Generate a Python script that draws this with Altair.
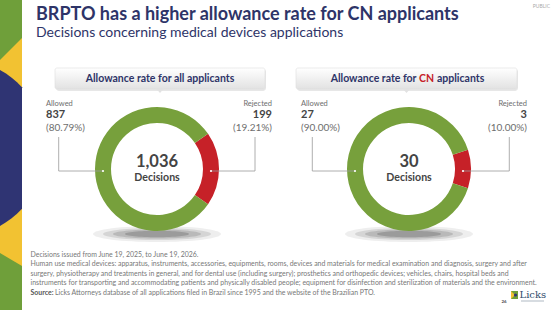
import math
import altair as alt
import pandas as pd

W, H = 554, 310
FONT = "Lato"

# Decisions on medical-device applications at the BRPTO
outcomes = ["Allowed", "Rejected"]
allowed_counts = [837, 27]
rejected_counts = [199, 3]
panel_prefix = ["Allowance rate for all applicants", "Allowance rate for"]
panel_highlight = ["", "CN"]
panel_suffix = ["", "applicants"]

title = "BRPTO has a higher allowance rate for CN applicants"
subtitle = "Decisions concerning medical devices applications"
footnote_lines = [
    "Decisions issued from June 19, 2025, to June 19, 2026.",
    "Human use medical devices: apparatus, instruments, accessories, equipments, rooms, devices and materials for medical examination and diagnosis, surgery and after",
    "surgery, physiotherapy and treatments in general, and for dental use (including surgery); prosthetics and orthopedic devices; vehicles, chairs, hospital beds and",
    "instruments for transporting and accommodating patients and physically disabled people; equipment for disinfection and sterilization of materials and the environment.",
]
source_label = "Source:"
source_text = "Licks Attorneys database of all applications filed in Brazil since 1995 and the website of the Brazilian PTO."

GREEN = "#77a03c"
RED = "#c62128"
NAVY = "#2e3468"
STRIP_GREEN = "#6f9f3a"
STRIP_YELLOW = "#f2c232"
STRIP_NAVY = "#2f3473"
DARK = "#444444"
GREY = "#6e6e6e"
LINE = "#9a9a9a"

one = pd.DataFrame({"k": [0]})


def base():
    return alt.Chart(one)


def shape(path, color, opacity=1.0):
    # size=4 makes custom symbol paths use pixel units
    return base().mark_point(shape=path, size=4, filled=True, fill=color,
                             strokeWidth=0, opacity=opacity).encode(
        x=alt.value(0), y=alt.value(0))


def text(t, x, y, size, color=DARK, weight="normal", align="left",
         baseline="middle", font=FONT):
    return base().mark_text(text=t, font=font, fontSize=size, fontWeight=weight,
                            color=color, align=align, baseline=baseline).encode(
        x=alt.value(x), y=alt.value(y))


def rect(x, x2, y, y2, **kw):
    return base().mark_rect(**kw).encode(
        x=alt.value(x), x2=alt.value(x2), y=alt.value(y), y2=alt.value(y2))


def rule(x, y, x2, y2):
    return base().mark_rule(color=LINE, strokeWidth=0.8).encode(
        x=alt.value(x), y=alt.value(y), x2=alt.value(x2), y2=alt.value(y2))


def ellipse(cx, cy, rx, ry):
    return (f"M{cx - rx},{cy} A{rx},{ry} 0 1 0 {cx + rx},{cy} "
            f"A{rx},{ry} 0 1 0 {cx - rx},{cy} Z")


layers = []

# left brand strip
layers.append(rect(0, 22, 0, H, color=STRIP_YELLOW))
layers.append(shape("M0,0 L22,0 L22,38 L0,60 Z", STRIP_GREEN))
layers.append(shape("M0,253 L22,266 L22,310 L0,310 Z", STRIP_GREEN))
layers.append(shape("M0,70.1 A89,89 0 0 1 22,87.2 L22,208.8 A89,89 0 0 1 0,225.9 Z", STRIP_NAVY))

# heading
layers.append(text(title, 36, 20, 18, color=NAVY, weight="bold", baseline="alphabetic"))
layers.append(text(subtitle, 36, 36.5, 14, color=NAVY, baseline="alphabetic"))
layers.append(text("PUBLIC", 550, 5.5, 5, color="#aaaaaa", align="right"))

centers = [(157, 169), (409, 169)]
boxes = [(55, 265), (296, 517)]
label_left = [46, 301]
label_right = [272, 527]
leader_left = [58.7, 312.3]
leader_right = [255, 509.3]
R_OUT, R_IN = 62, 46
R_MID = (R_OUT + R_IN) / 2

for i in range(2):
    cx, cy = centers[i]
    allowed, rejected = allowed_counts[i], rejected_counts[i]
    total = allowed + rejected
    frac = rejected / total

    # header box
    bx0, bx1 = boxes[i]
    bmid = (bx0 + bx1) / 2
    layers.append(rect(bx0 + 1, bx1 + 1, 69, 91, color="#cfcfcf", opacity=0.5, cornerRadius=3))
    layers.append(rect(bx0, bx1, 68, 89, cornerRadius=2, stroke="#dedede", strokeWidth=0.6,
                       color={"gradient": "linear", "x1": 0, "y1": 0, "x2": 0, "y2": 1,
                              "stops": [{"offset": 0, "color": "#ffffff"},
                                        {"offset": 1, "color": "#e2e2e2"}]}))
    layers.append(shape(f"M{bmid - 4},88.5 L{bmid + 4},88.5 L{bmid},93 Z", "#e2e2e2"))
    if panel_highlight[i]:
        layers.append(text(panel_prefix[i], bmid + 10, 78.5, 10.5, color=NAVY, weight="bold", align="right"))
        layers.append(text(panel_highlight[i], bmid + 20, 78.5, 10.5, color=RED,
                           weight="bold", align="center"))
        layers.append(text(panel_suffix[i], bmid + 30.5, 78.5, 10.5, color=NAVY, weight="bold"))
    else:
        layers.append(text(panel_prefix[i], bmid, 78.5, 10.5, color=NAVY, weight="bold", align="center"))

    # soft shadow under the ring
    for rx, ry, op in [(64, 8, 0.10), (54, 6, 0.16), (44, 4.5, 0.22), (32, 3.2, 0.3)]:
        layers.append(shape(ellipse(cx, cy + 65, rx, ry), "#555555", op))

    # donut
    start = math.pi / 2 - math.pi * frac
    df = pd.DataFrame({"outcome": ["Rejected", "Allowed"],
                       "count": [rejected, allowed], "rank": [0, 1]})
    layers.append(alt.Chart(df).mark_arc(innerRadius=R_IN, outerRadius=R_OUT).encode(
        theta=alt.Theta("count:Q", stack=True,
                        scale=alt.Scale(range=[start, start + 2 * math.pi])),
        color=alt.Color("outcome:N", legend=None,
                        scale=alt.Scale(domain=outcomes, range=[GREEN, RED])),
        order=alt.Order("rank:Q"),
        x=alt.value(cx), y=alt.value(cy)))

    # centre label
    layers.append(text(f"{total:,}", cx, cy - 2, 16.5, color=DARK, weight="bold",
                       align="center", baseline="alphabetic"))
    layers.append(text("Decisions", cx, cy + 12, 10.6, color=DARK, weight="bold",
                       align="center", baseline="alphabetic"))

    # leaders
    ly = cy + 2
    lx, rx_ = leader_left[i], leader_right[i]
    layers.append(rule(lx, 137, lx, ly))
    layers.append(rule(lx, ly, cx - R_MID, ly))
    layers.append(rule(cx + R_MID, ly, rx_, ly))
    layers.append(rule(rx_, ly, rx_, 137))
    for dx in (cx - R_MID, cx + R_MID):
        layers.append(base().mark_point(shape="circle", size=5, filled=True, fill="white",
                                        strokeWidth=0, opacity=1).encode(
            x=alt.value(dx), y=alt.value(ly)))

    # outcome labels
    xl, xr = label_left[i], label_right[i]
    layers.append(text(outcomes[0], xl, 104, 7.5, color=GREY))
    layers.append(text(f"{allowed:,}", xl, 115, 11, color=DARK, weight="bold"))
    layers.append(text(f"({allowed / total:.2%})", xl, 128, 10, color=GREY))
    layers.append(text(outcomes[1], xr, 104, 7.5, color=GREY, align="right"))
    layers.append(text(f"{rejected:,}", xr, 115, 11, color=DARK, weight="bold", align="right"))
    layers.append(text(f"({rejected / total:.2%})", xr, 128, 10, color=GREY, align="right"))

# footnotes
for j, line in enumerate(footnote_lines):
    layers.append(text(line, 30.5, 255 + j * 9.4, 6.95, color="#777777"))
layers.append(text(source_label, 30.5, 292.8, 6.95, color="#555555", weight="bold"))
layers.append(text(source_text, 55, 292.8, 6.95, color="#777777"))

# logo
layers.append(text("26", 504, 301.5, 4.5, color="#555555", weight="bold", align="center"))
layers.append(rect(511, 518, 291, 299, color=STRIP_GREEN))
layers.append(shape("M511,291 L515,295 L511,299 Z", STRIP_YELLOW))
layers.append(shape(ellipse(515.5, 295, 1.6, 1.6), STRIP_NAVY))
layers.append(text("Licks", 519.5, 297.5, 10, color="#2f4d6b", baseline="alphabetic",
                   font="DejaVu Serif"))
layers.append(rect(521, 544, 300.5, 301.5, color="#7a8a9a", opacity=0.6))

chart = alt.layer(*layers).resolve_scale(theta="independent").properties(
    width=W, height=H, background="white",
    autosize=alt.AutoSizeParams(type="none"), padding=0
).configure_view(stroke=None)

chart.save("out.html", embed_options={"renderer": "svg", "actions": False})
